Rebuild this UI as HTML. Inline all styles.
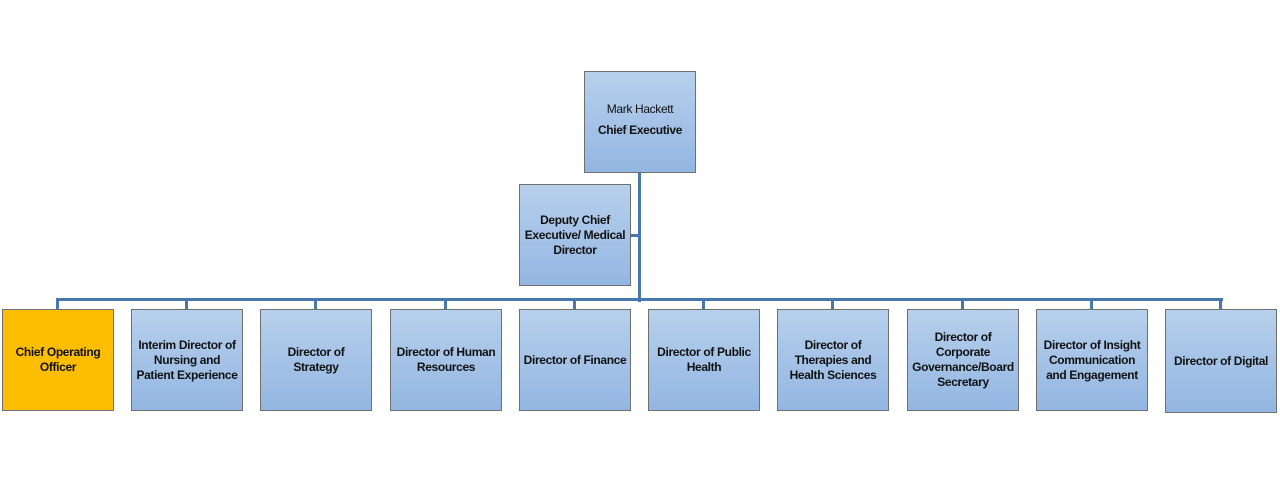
<!DOCTYPE html>
<html><head><style>
body{margin:0;width:1280px;height:483px;background:#fff;position:relative;overflow:hidden;font-family:"Liberation Sans",Arial,sans-serif}
.b{position:absolute;width:110px;height:100px;border:1px solid #6f6f6f;background:linear-gradient(#b7d0ec,#93b6e2);display:flex;align-items:center;justify-content:center;text-align:center;font-weight:bold;font-size:12px;letter-spacing:-0.35px;line-height:15px;color:#111;box-sizing:content-box;padding:0;white-space:nowrap}
.l{position:absolute;background:#4677ad}
</style></head><body>
<div class="l" style="left:638px;top:172px;width:3px;height:130px"></div>
<div class="l" style="left:631px;top:234px;width:9px;height:3px"></div>
<div class="l" style="left:56px;top:298px;width:1167px;height:3px"></div>
<div class="l" style="left:56px;top:298px;width:3px;height:11px"></div>
<div class="l" style="left:185px;top:298px;width:3px;height:11px"></div>
<div class="l" style="left:314px;top:298px;width:3px;height:11px"></div>
<div class="l" style="left:444px;top:298px;width:3px;height:11px"></div>
<div class="l" style="left:573px;top:298px;width:3px;height:11px"></div>
<div class="l" style="left:702px;top:298px;width:3px;height:11px"></div>
<div class="l" style="left:831px;top:298px;width:3px;height:11px"></div>
<div class="l" style="left:961px;top:298px;width:3px;height:11px"></div>
<div class="l" style="left:1090px;top:298px;width:3px;height:11px"></div>
<div class="l" style="left:1219px;top:298px;width:3px;height:11px"></div>
<div class="b" style="left:584px;top:71px"><div><span style="font-weight:normal">Mark Hackett</span><br><span style="line-height:26px">Chief Executive</span></div></div>
<div class="b" style="left:519px;top:184px"><div>Deputy Chief<br>Executive/ Medical<br>Director</div></div>
<div class="b" style="left:2px;top:309px;background:#fdbd00"><div>Chief Operating<br>Officer</div></div>
<div class="b" style="left:131px;top:309px"><div>Interim Director of<br>Nursing and<br>Patient Experience</div></div>
<div class="b" style="left:260px;top:309px"><div>Director of<br>Strategy</div></div>
<div class="b" style="left:390px;top:309px"><div>Director of Human<br>Resources</div></div>
<div class="b" style="left:519px;top:309px">Director of Finance</div>
<div class="b" style="left:648px;top:309px"><div>Director of Public<br>Health</div></div>
<div class="b" style="left:777px;top:309px"><div>Director of<br>Therapies and<br>Health Sciences</div></div>
<div class="b" style="left:907px;top:309px"><div>Director of<br>Corporate<br>Governance/Board<br>Secretary</div></div>
<div class="b" style="left:1036px;top:309px"><div>Director of Insight<br>Communication<br>and Engagement</div></div>
<div class="b" style="left:1165px;top:309px;height:102px">Director of Digital</div>
</body></html>
